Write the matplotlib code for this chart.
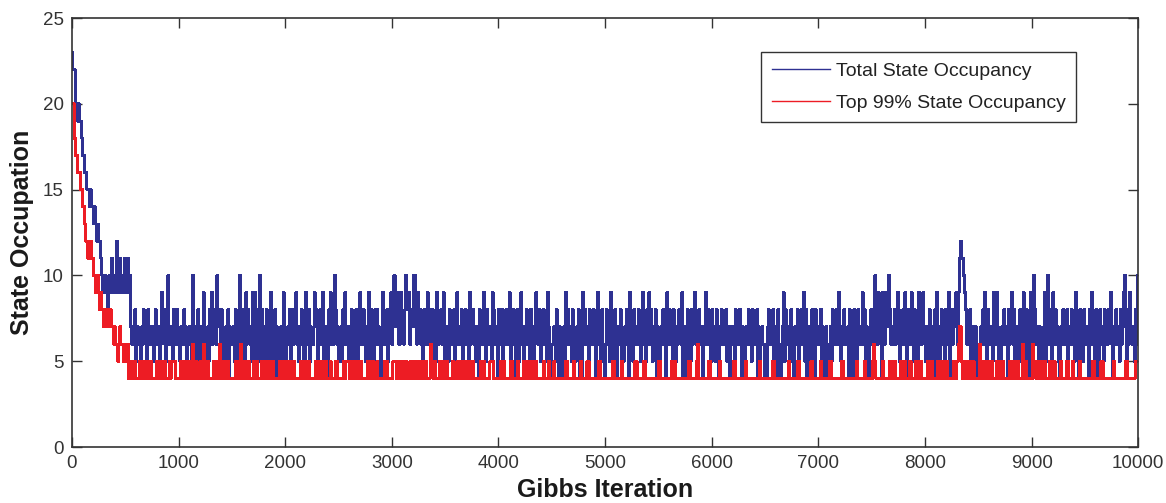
import matplotlib.pyplot as plt
import numpy as np

# one character per 10 Gibbs iterations, base-36 digit = state count (a=10, b=11, ...)
ITER_STEP = 10

total_occ = [
    "nmmkkjkjjihhggffefeededcdccba99a989a9b9a99c9ab9a9b",
    "a9b9a76768576657687658767657866756978657a676587686",
    "6576687567675a7674865769566758696876a7868566758476",
    "6758675a685749687659695865a68574864695768476467596",
    "5676847867965768654967857669785768695767489676a8675",
    "67586967576845787569668757694867586876479676857896",
    "7a8796698768a989687aa96978674867968758765966786947",
    "67586678579676847686759678657648676975866759867648",
    "76857686794768648757965768675867469768576867597646",
    "67586476467596867587657684749686758676864796758646",
    "86759675864768465768749675867686579675869685768474",
    "57686749686758657687694745867586796758674769686758",
    "67586476867685674767586768647457686758676847467646",
    "47867685764864679586675876476857686958476758648767",
    "68576476467586768697576866748474867586769685764686",
    "75a869764986797a8676867985768697486697584759686975",
    "6758647684967586758679486687969bcbba98676857567646",
    "57686974866759869746576867486796857675866975864696",
    "6a867476467958a67859686754768676857686759674867586",
    "674869675864586758676879647686758679a75869767586a9",
]

top99_occ = [
    "kkihhgggffeedccbbcbbaa99a9898877878787767665676656",
    "65645445454445455454455454444554544455444545555444",
    "44554455454446545444554645454444455454644454455444",
    "44455454644545455444545544445454454545544444455454",
    "55445454544444545544545444445455444544544454444554",
    "44444545554454445544554444454545544454444445554444",
    "45554454445455444544544554544454544465545444454544",
    "55444445444544545544544545544444454454444455544444",
    "44544544444554444454444544544455444544444454444544",
    "44544444444445544444544444454444455444444444554444",
    "44444445544444454444444444445544444455444444444444",
    "55444444444455454444444444445544444456444444444554",
    "44444445444444444444554444444444544444444444454444",
    "44444445544444444444445444444455444444444445544444",
    "44544444445544444444445544444444444454444445444444",
    "45654444445444444554454444454545444554444544455444",
    "44554454444455454454544444455456775454454455454444",
    "46554454544554444544554544444544554445444644544444",
    "46554454544454444544554444454444455444544444454444",
    "44444445544444455444444444454444444444554444444555",
]

tot = np.array([int(c, 36) for c in "".join(total_occ)])
top = np.array([int(c, 36) for c in "".join(top99_occ)])
iters_tot = np.arange(len(tot)) * ITER_STEP
iters_top = np.arange(len(top)) * ITER_STEP

plt.rcParams['font.family'] = ['Liberation Sans', 'DejaVu Sans']

fig = plt.figure(figsize=(11.66, 5.03), dpi=100)
ax = fig.add_axes([0.0617, 0.1113, 0.9145, 0.8527])

ax.plot(iters_tot, tot, drawstyle='steps-post', color='#2e3192', lw=1.4,
        antialiased=False, label='Total State Occupancy')
ax.plot(iters_top, top, drawstyle='steps-post', color='#ed1c24', lw=1.4,
        antialiased=False, label='Top 99% State Occupancy')

ax.set_xlim(0, 10000)
ax.set_ylim(0, 25)
ax.set_xticks(np.arange(0, 10001, 1000))
ax.set_yticks(np.arange(0, 26, 5))

for lab in ax.get_xticklabels() + ax.get_yticklabels():
    lab.set_fontsize(13.5)
    lab.set_color('#333333')

ax.tick_params(direction='in', length=7.5, width=1, top=True, right=True,
               color='#333333', pad=6)
for sp in ax.spines.values():
    sp.set_color('#333333')
    sp.set_linewidth(1.2)

ax.set_xlabel('Gibbs Iteration', fontsize=18, fontweight='bold',
              color='#1a1a1a', labelpad=4)
ax.set_ylabel('State Occupation', fontsize=18, fontweight='bold',
              color='#1a1a1a', labelpad=6)

leg = ax.legend(loc='upper right', bbox_to_anchor=(0.942, 0.921),
                borderaxespad=0, fontsize=14, handlelength=3.0,
                frameon=True, fancybox=False, borderpad=0.55,
                labelspacing=0.7, handletextpad=0.3)
leg.get_frame().set_edgecolor('#333333')
leg.get_frame().set_linewidth(1.0)
leg.get_frame().set_alpha(1)
for t in leg.get_texts():
    t.set_color('#222222')
for h in leg.get_lines():
    h.set_antialiased(True)
    h.set_linewidth(1.0)

plt.savefig('out.png', dpi=100)
